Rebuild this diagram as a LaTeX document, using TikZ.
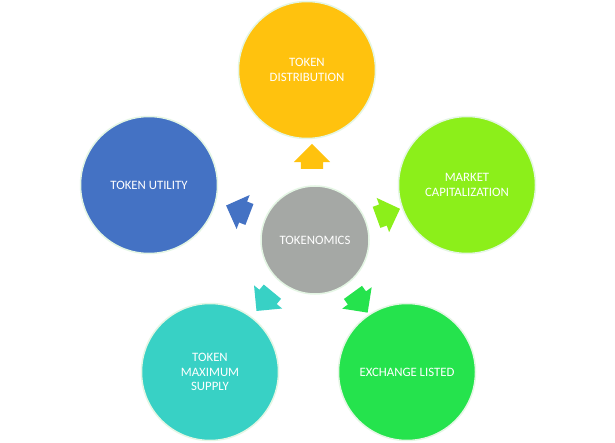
\documentclass[tikz,border=0pt]{standalone}
\usepackage{fontspec}
\setmainfont{Carlito}
\usetikzlibrary{shapes.arrows}
\definecolor{cgold}{HTML}{FFC20E}
\definecolor{clime}{HTML}{8CEF1A}
\definecolor{cblue}{HTML}{4472C4}
\definecolor{cteal}{HTML}{38D1C5}
\definecolor{cgreen}{HTML}{25E34D}
\definecolor{cgray}{HTML}{A5A8A5}
\definecolor{cedge}{HTML}{E4F6E4}
\begin{document}
\begin{tikzpicture}[x=1pt,y=-1pt,
  bubble/.style={circle, draw=cedge, line width=1.5pt, minimum size=137pt, inner sep=0pt,
    text=white, align=center, font=\fontsize{12.8}{14.5}\selectfont},
  hub/.style={bubble, minimum size=108pt},
  blockarrow/.style={single arrow, minimum height=25pt, inner xsep=0pt, inner ysep=11pt,
    single arrow head extend=7pt, draw=none}]
\useasboundingbox (0,0) rectangle (615,443);
\fill[white] (0,0) rectangle (615,443);
\node[hub, fill=cgray] (hub) at (315,240) {TOKENOMICS};
\node[bubble, fill=cgold] (dist) at (307,70) {TOKEN\\DISTRIBUTION};
\node[bubble, fill=clime] (mcap) at (467,185) {MARKET\\CAPITALIZATION};
\node[bubble, fill=cblue] (util) at (149,185) {TOKEN UTILITY};
\node[bubble, fill=cteal] (supply) at (210,372) {TOKEN\\MAXIMUM\\SUPPLY};
\node[bubble, fill=cgreen] (exch) at (407,372) {EXCHANGE LISTED};
\node[blockarrow, fill=cgold, rotate=90] (a1) at (312,162) {};
\node[blockarrow, fill=clime, rotate=20] (a2) at (383,215) {};
\node[blockarrow, fill=cblue, rotate=159] (a3) at (243,212) {};
\node[blockarrow, fill=cteal, rotate=-129.5] (a4) at (268,297) {};
\node[blockarrow, fill=cgreen, rotate=-54] (a5) at (357,298) {};
\end{tikzpicture}
\end{document}
